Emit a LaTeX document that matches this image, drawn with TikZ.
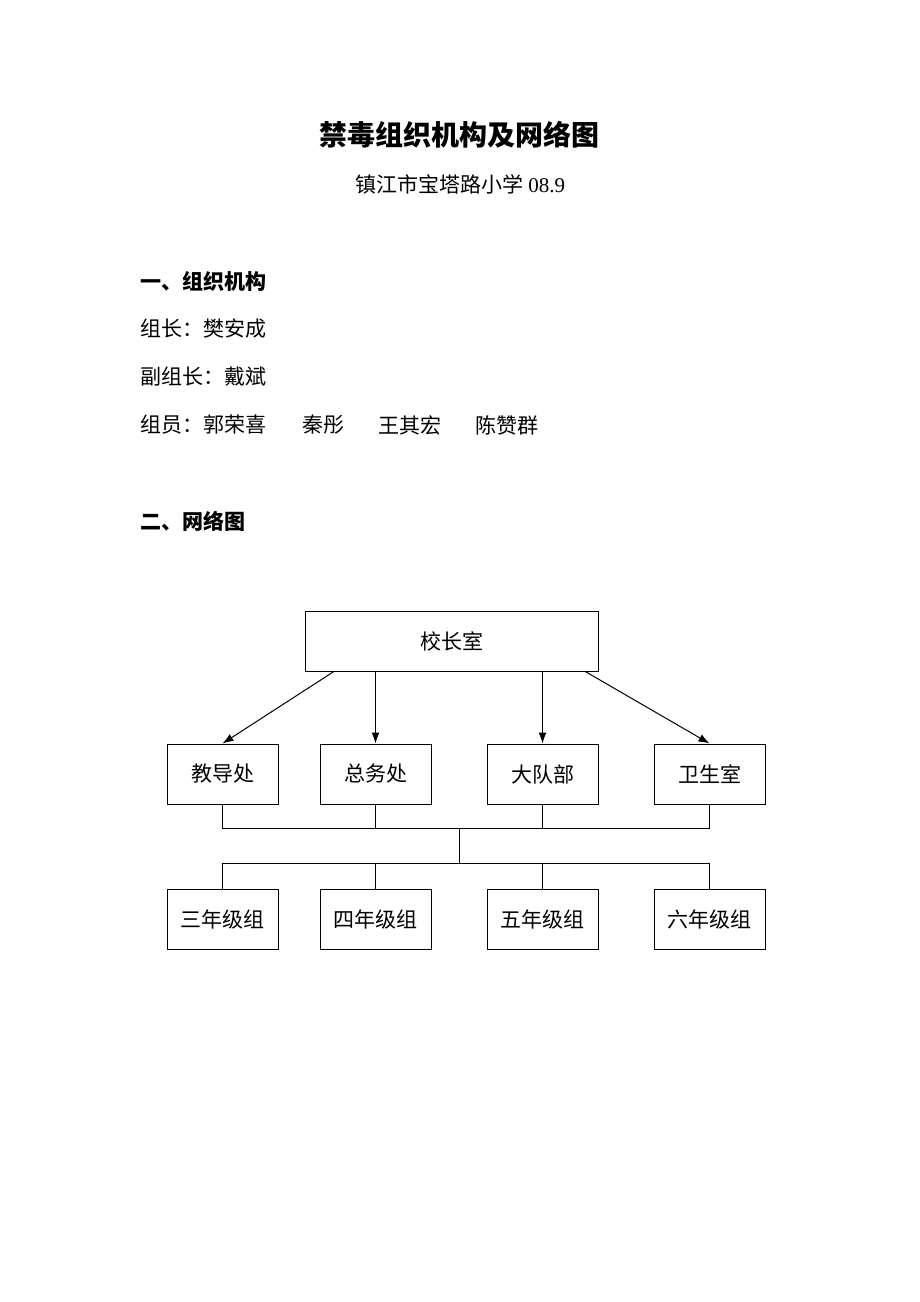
\documentclass[tikz,border=0pt]{standalone}
\usepackage{fontspec}
\setmainfont{Liberation Serif}
\newfontfamily\cjk{Noto Sans CJK SC}
\usetikzlibrary{calc, arrows.meta}

\tikzset{
	unit/.style = {draw, line width = 1pt, minimum width = 111pt, minimum height = 60pt, inner sep = 0pt, font = \cjk\fontsize{21}{21}\selectfont},
	txt/.style = {anchor = west, inner sep = 0pt, font = \cjk\fontsize{21}{21}\selectfont},
	head/.style = {anchor = west, inner sep = 0pt, font = \cjk\bfseries\fontsize{21}{21}\selectfont}
}

\begin{document}
\begin{tikzpicture}[x = 1pt, y = -1pt]
			\def\colA{222.5};
			\def\colB{375.5};
			\def\colC{542.5};
			\def\colD{709.5};
			\def\rowB{774};
			\def\rowC{919};

			\useasboundingbox (0,0) rectangle (920,1302);

			\begin{scope}
				\node [font = \cjk\bfseries\fontsize{28}{28}\selectfont] (title) at (459,135) {禁毒组织机构及网络图};
				\node [font = \fontsize{21}{21}\selectfont] (school) at (460,184) {{\cjk 镇江市宝塔路小学} 08.9};
				\node [head] (part1) at (140,281) {一、组织机构};
				\node [txt] (leader) at (140,329) {组长：樊安成};
				\node [txt] (deputy) at (140,377) {副组长：戴斌};
				\node [txt] (members) at (140,425) {组员：郭荣喜};
				\node [txt] (m2) at (302,425) {秦彤};
				\node [txt] (m3) at (378,425) {王其宏};
				\node [txt] (m4) at (475,425) {陈赞群};
				\node [head] (part2) at (140,521) {二、网络图};
			\end{scope}

			\begin{scope}
				\node [unit, minimum width = 293pt] (head) at (451.5,641) {校长室};
				\node [unit] (jd) at (\colA,\rowB) {教导处};
				\node [unit] (zw) at (\colB,\rowB) {总务处};
				\node [unit] (dd) at (\colC,\rowB) {大队部};
				\node [unit] (ws) at (\colD,\rowB) {卫生室};
				\node [unit] (g3) at (\colA,\rowC) {三年级组};
				\node [unit] (g4) at (\colB,\rowC) {四年级组};
				\node [unit] (g5) at (\colC,\rowC) {五年级组};
				\node [unit] (g6) at (\colD,\rowC) {六年级组};
				\coordinate (hubA) at (459,828);
				\coordinate (hubB) at (459,863);
			\end{scope}

			\begin{scope}[-{Latex[length = 11pt, width = 8pt]}, line width = 1pt]
				\draw ($(head.south west)!0.1!(head.south east)$) -- (jd.north);
				\draw (head.south -| zw.north) -- (zw.north);
				\draw (head.south -| dd.north) -- (dd.north);
				\draw ($(head.south west)!0.955!(head.south east)$) -- (ws.north);
			\end{scope}

			\begin{scope}[line width = 1pt]
				\draw (jd.south) |- (hubA) -| (ws.south);
				\draw (zw.south) -- (zw.south |- hubA);
				\draw (dd.south) -- (dd.south |- hubA);
				\draw (hubA) -- (hubB);
				\draw (g3.north) |- (hubB) -| (g6.north);
				\draw (g4.north) -- (g4.north |- hubB);
				\draw (g5.north) -- (g5.north |- hubB);
			\end{scope}
		\end{tikzpicture}
\end{document}
